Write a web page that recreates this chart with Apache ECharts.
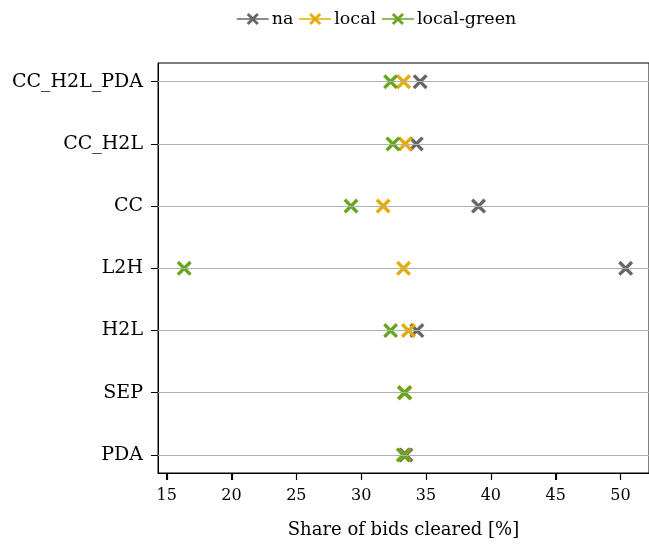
<!DOCTYPE html>
<html lang="en">
<head>
    <meta charset="UTF-8">
    <title>Share of bids cleared</title>
    <style>
        html, body { margin: 0; padding: 0; background: #fff; }
    </style>
</head>
<body>
<div id="main" style="width: 649px;height:544px;"></div>
<script src="https://cdn.jsdelivr.net/npm/echarts@6/dist/echarts.min.js"></script>
<script>
    // categories from bottom to top
    var categories = ['PDA', 'SEP', 'H2L', 'L2H', 'CC', 'CC_H2L', 'CC_H2L_PDA'];
    var xTicks = [15, 20, 25, 30, 35, 40, 45, 50];
    var yTicks = [0, 1, 2, 3, 4, 5, 6];

    // share of bids cleared [%], same order as categories
    var naValues = [33.45, 33.35, 34.3, 50.4, 39.05, 34.25, 34.55];
    var localValues = [33.3, 33.35, 33.65, 33.27, 31.7, 33.4, 33.27];
    var greenValues = [33.25, 33.35, 32.27, 16.35, 29.22, 32.45, 32.27];

    var font = 'DejaVu Serif';
    var xMark = 'path://M1.6,0 L5,3.4 L8.4,0 L10,1.6 L6.6,5 L10,8.4 L8.4,10 L5,6.6 L1.6,10 L0,8.4 L3.4,5 L0,1.6 Z';
    var yMin = -0.29;

    function pairs(vals) {
        return vals.map(function (v, i) { return [v, i]; });
    }

    function makeSeries(name, vals, color) {
        return {
            name: name,
            type: 'line',
            z: 3,
            data: pairs(vals),
            symbol: xMark,
            symbolSize: 15,
            showSymbol: true,
            itemStyle: { color: color },
            lineStyle: { opacity: 0 },
            emphasis: { disabled: true },
            animation: false
        };
    }

    var chart = echarts.init(document.getElementById('main'));

    var option = {
        animation: false,
        legend: {
            data: ['na', 'local', 'local-green'],
            left: 231,
            top: 5,
            itemWidth: 32,
            itemHeight: 15,
            itemGap: 5,
            lineStyle: { opacity: 1, width: 1.5 },
            textStyle: { fontFamily: font, fontSize: 17.5, color: '#000', padding: [0, 0, 0, -2] }
        },
        grid: {
            left: 158,
            top: 63,
            right: 0,
            bottom: 67,
            show: true,
            borderColor: '#000',
            borderWidth: 1
        },
        xAxis: {
            type: 'value',
            min: 14.33,
            max: 52.2,
            name: 'Share of bids cleared [%]',
            nameLocation: 'middle',
            nameGap: 48,
            nameTextStyle: { fontFamily: font, fontSize: 18, color: '#000' },
            axisLine: { show: true, onZero: false, lineStyle: { color: '#000', width: 1 } },
            axisTick: { show: true, length: 7, customValues: xTicks, lineStyle: { color: '#000', width: 1 } },
            axisLabel: {
                customValues: xTicks,
                margin: 15,
                fontFamily: font,
                fontSize: 16,
                color: '#000'
            },
            splitLine: { show: false }
        },
        yAxis: {
            type: 'value',
            min: yMin,
            max: 6.3,
            axisLine: { show: true, onZero: false, lineStyle: { color: '#000', width: 1 } },
            axisTick: { show: true, length: 7, customValues: yTicks, lineStyle: { color: '#000' } },
            axisLabel: {
                customValues: yTicks,
                margin: 15,
                fontFamily: font,
                fontSize: 19,
                color: '#000',
                formatter: function (v) { return categories[Math.round(v)]; }
            },
            splitLine: { show: false }
        },
        series: [
            {
                name: 'grid',
                type: 'line',
                z: 1,
                data: [],
                markLine: {
                    silent: true,
                    symbol: 'none',
                    label: { show: false },
                    lineStyle: { color: '#b0b0b0', width: 1, type: 'solid' },
                    data: yTicks.map(function (t) { return { yAxis: t }; })
                }
            },
            makeSeries('na', naValues, '#666666'),
            makeSeries('local', localValues, '#e6ab02'),
            makeSeries('local-green', greenValues, '#66a61e')
        ]
    };

    chart.setOption(option);

    // x ticks below the axis, placed through the axis scale
    var yBottom = chart.convertToPixel({ yAxisIndex: 0 }, yMin);
    chart.setOption({
        graphic: xTicks.map(function (t) {
            var x = Math.round(chart.convertToPixel({ xAxisIndex: 0 }, t)) + 0.5;
            return {
                type: 'line',
                silent: true,
                z: 100,
                shape: { x1: x, y1: yBottom, x2: x, y2: yBottom + 7 },
                style: { stroke: '#000', lineWidth: 1.2 }
            };
        })
    });
</script>
</body>
</html>
